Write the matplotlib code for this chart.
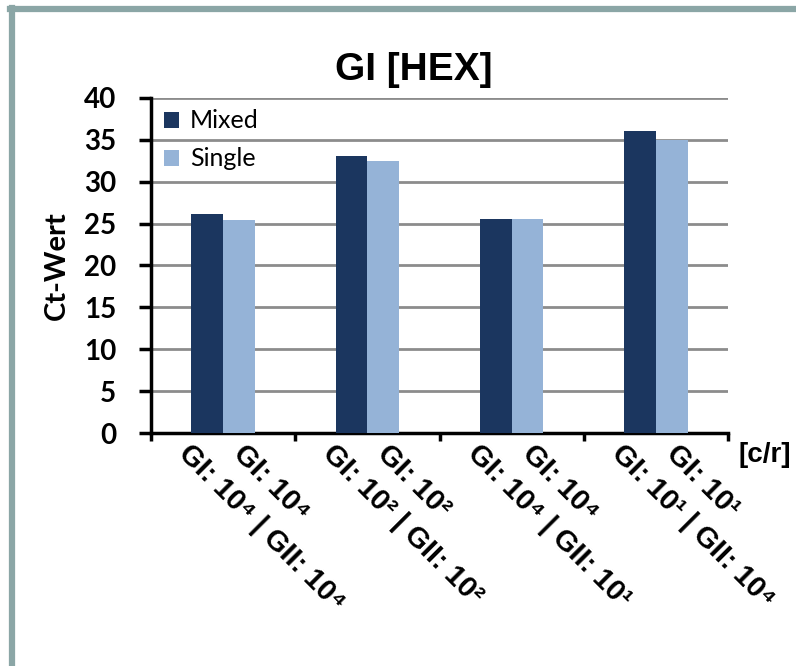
import matplotlib
matplotlib.use("Agg")
import matplotlib.pyplot as plt
from matplotlib.lines import Line2D
import numpy as np

# Ct values per sample group
groups = np.arange(4)
mixed = [26.2, 33.1, 25.6, 36.0]
single = [25.4, 32.5, 25.6, 35.0]
long_labels = ["GI: 10\u2074 | GII: 10\u2074", "GI: 10\u00b2 | GII: 10\u00b2",
               "GI: 10\u2074 | GII: 10\u00b9", "GI: 10\u00b9 | GII: 10\u2074"]
short_labels = ["GI: 10\u2074", "GI: 10\u00b2", "GI: 10\u2074", "GI: 10\u00b9"]
yticks = [0, 5, 10, 15, 20, 25, 30, 35, 40]

dark = "#1B365F"
light = "#95B3D7"
arial = ["Liberation Sans", "DejaVu Sans"]
calibri = ["Lato", "DejaVu Sans"]

fig = plt.figure(figsize=(7.96, 6.66), dpi=100)
ax = fig.add_axes([151 / 796, 1 - 433 / 666, (728 - 151) / 796, (433 - 98) / 666])

w = 0.22
ax.bar(groups - w / 2, mixed, w, color=dark, label="Mixed", zorder=3)
ax.bar(groups + w / 2, single, w, color=light, label="Single", zorder=3)

ax.set_xlim(-0.5, 3.5)
ax.set_ylim(0, 40)
ax.set_yticks(yticks)
ax.set_yticklabels([str(t) for t in yticks], family=calibri, fontweight="bold", fontsize=20)
ax.set_xticks(np.arange(-0.5, 4, 1))
ax.set_xticklabels([])
for y in yticks[1:]:
    ax.axhline(y, color="#8C8C8C", lw=2, zorder=1)

for s in ["top", "right"]:
    ax.spines[s].set_visible(False)
for s in ["left", "bottom"]:
    ax.spines[s].set_linewidth(2.5)
ax.tick_params(axis="y", direction="out", length=9, width=2.5, pad=16)
ax.tick_params(axis="x", direction="out", length=6, width=2.5)

ax.set_ylabel("Ct-Wert", family=calibri, fontweight="bold", fontsize=21)
ax.yaxis.set_label_coords(-0.14, 0.5)

# rotated category labels, two per group
trans = ax.get_xaxis_transform()
for g, lo, sh in zip(groups, long_labels, short_labels):
    ax.text(g - 0.21, -0.018, lo, transform=trans, rotation=-45, rotation_mode="anchor",
            ha="left", va="top", family=arial, fontweight="bold", fontsize=21)
    ax.text(g + 0.17, -0.018, sh, transform=trans, rotation=-45, rotation_mode="anchor",
            ha="left", va="top", family=arial, fontweight="bold", fontsize=21)

fig.text(739 / 796, 1 - 455 / 666, "[c/r]", ha="left", va="center",
         family=arial, fontweight="bold", fontsize=20)
fig.text(414 / 796, 1 - 70 / 666, "GI [HEX]", ha="center", va="center",
         family=arial, fontweight="bold", fontsize=28)

ax.legend(loc="upper left", bbox_to_anchor=(-0.008, 1.018), frameon=False,
          prop={"family": calibri, "size": 18}, handlelength=0.6, handleheight=0.6,
          handletextpad=0.45, labelspacing=0.6, borderaxespad=0.3)

# frame around the chart (top and left edges)
fig.add_artist(Line2D([12 / 796, 12 / 796], [0, 1 - 8 / 666], transform=fig.transFigure,
                      color="#8BA6A6", lw=4.5))
fig.add_artist(Line2D([10 / 796, 1], [1 - 9 / 666, 1 - 9 / 666], transform=fig.transFigure,
                      color="#8BA6A6", lw=4.5))

fig.savefig("out.png", dpi=100)
